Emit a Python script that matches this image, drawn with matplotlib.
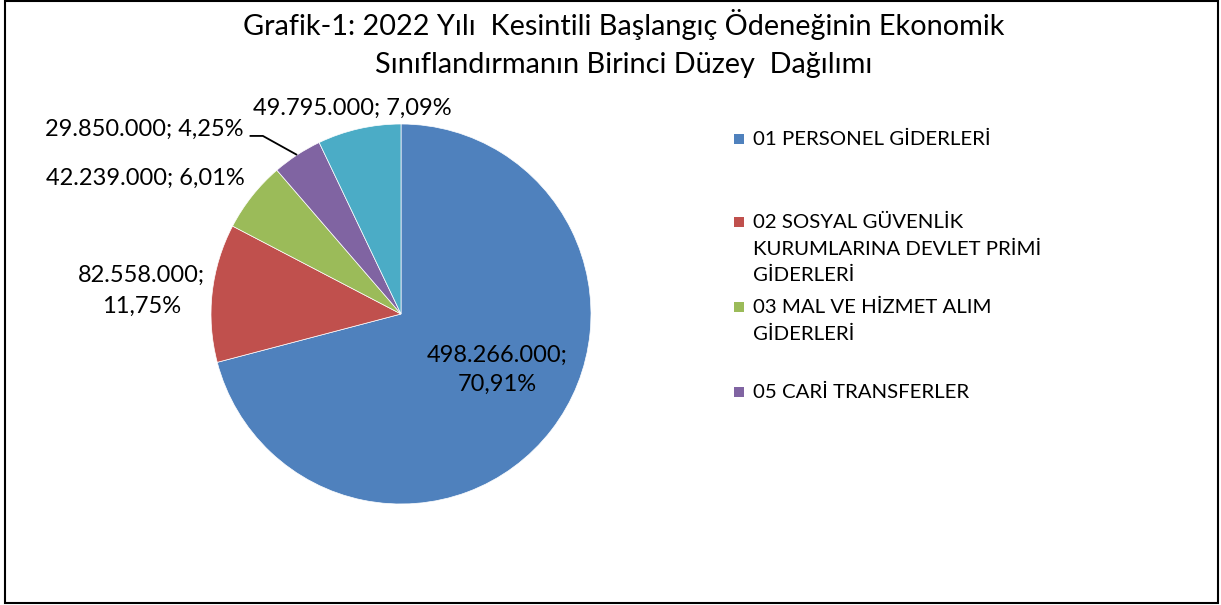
import numpy as np
import matplotlib
matplotlib.use("Agg")
import matplotlib.pyplot as plt
from matplotlib.patches import Rectangle

categories = ["01 PERSONEL GİDERLERİ",
              "02 SOSYAL GÜVENLİK KURUMLARINA DEVLET PRİMİ GİDERLERİ",
              "03 MAL VE HİZMET ALIM GİDERLERİ",
              "05 CARİ TRANSFERLER",
              "06 SERMAYE GİDERLERİ"]
values = [498266000, 82558000, 42239000, 29850000, 49795000]
label_texts = ["498.266.000;\n70,91%", "82.558.000;\n11,75%", "42.239.000; 6,01%",
               "29.850.000; 4,25%", "49.795.000; 7,09%"]
legend_lines = ["01 PERSONEL GİDERLERİ",
                "02 SOSYAL GÜVENLİK\nKURUMLARINA DEVLET PRİMİ\nGİDERLERİ",
                "03 MAL VE HİZMET ALIM\nGİDERLERİ",
                "05 CARİ TRANSFERLER"]
colors = ["#4F81BD", "#C0504D", "#9BBB59", "#8064A2", "#4BACC6"]

W, H = 1221, 605
fig = plt.figure(figsize=(W/100, H/100), dpi=100)
font = ['Lato', 'DejaVu Sans']
title_font = ['Lato', 'DejaVu Sans']

def fx(x): return x / W
def fy(y): return 1 - y / H

# frame
fig.add_artist(Rectangle((fx(5), fy(603)), fx(1218) - fx(5), fy(1) - fy(603),
                         transform=fig.transFigure, fill=False, ec='black', lw=1.5))

cx, cy, R = 401, 314, 190
ax = fig.add_axes([fx(cx - R), fy(cy + R), 2*R/W, 2*R/H])
wedges, _ = ax.pie(values, colors=colors, startangle=90, counterclock=False,
                   radius=1.0, wedgeprops=dict(linewidth=0.5, edgecolor='white'))
ax.set_xlim(-1, 1); ax.set_ylim(-1, 1)
ax.set_aspect('equal'); ax.axis('off')

fs = 17
# data labels
ax.text(0.505, -0.295, label_texts[0], ha='center', va='center', fontsize=fs, family=font, linespacing=1.5)
ax.text(-1.368, 0.121, label_texts[1], ha='center', va='center', fontsize=fs, family=font, linespacing=1.55)
ax.text(-0.82, 0.716, label_texts[2], ha='right', va='center', fontsize=fs, family=font)
ax.text(-0.83, 0.974, label_texts[3], ha='right', va='center', fontsize=fs, family=font)
ax.text(-0.78, 1.084, label_texts[4], ha='left', va='center', fontsize=fs, family=font)

# leader line for the purple slice
w = wedges[3]
mid = np.deg2rad((w.theta1 + w.theta2) / 2)
px, py = np.cos(mid), np.sin(mid)
ex, ey = px - 0.18, py + 0.10
ax.plot([px, ex, ex - 0.07], [py, ey, ey], color='black', lw=1.3, clip_on=False,
        solid_capstyle='butt')

# title
fig.text(fx(624), fy(25), "Grafik-1: 2022 Yılı  Kesintili Başlangıç Ödeneğinin Ekonomik",
         ha='center', va='center', fontsize=20.8, family=title_font)
fig.text(fx(624), fy(65), "Sınıflandırmanın Birinci Düzey  Dağılımı",
         ha='center', va='center', fontsize=20.8, family=title_font)

# legend
ys = [139, 222, 307, 392]
for y, txt, c in zip(ys, legend_lines, colors):
    fig.add_artist(Rectangle((fx(734), fy(y + 5)), 10/W, 10/H, transform=fig.transFigure,
                             fc=c, ec='none'))
    fig.text(fx(753), fy(y - 8), txt, ha='left', va='top', fontsize=14.7, family=font,
             linespacing=1.65, transform=fig.transFigure)

fig.savefig("out.png", dpi=100)
